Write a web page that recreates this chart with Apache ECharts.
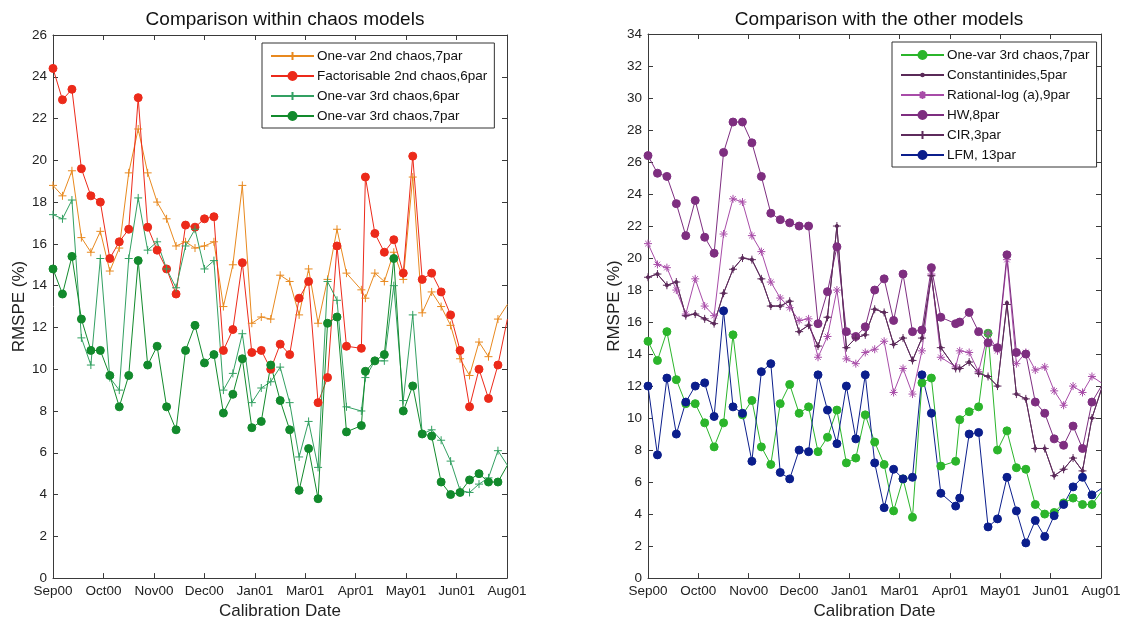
<!DOCTYPE html>
<html>
<head>
<meta charset="utf-8">
<script src="https://cdn.jsdelivr.net/npm/echarts/dist/echarts.min.js"></script>
<style>
  html, body { margin: 0; padding: 0; background: #ffffff; }
  #chart { width: 1126px; height: 625px; }
</style>
</head>
<body>
<div id="chart"></div>
<script>
// Calibration dates, in days after the first calibration (weekly, one shifted week)
const calibDays = [0, 7, 14, 21, 28, 35, 42, 49, 56, 63, 70, 77, 84, 91, 98, 105,
  112, 119, 126, 133, 140, 147, 154, 161, 168, 175, 182, 189, 196, 203, 210, 217,
  228, 231, 238, 245, 252, 259, 266, 273, 280, 287, 294, 301, 308, 315, 322, 329, 336];

// Month labels placed on the evenly spaced date ticks
const dateTickLabels = ['Sep00', 'Oct00', 'Nov00', 'Dec00', 'Jan01', 'Mar01', 'Apr01', 'May01', 'Jun01', 'Aug01'];
const dateSpan = 335.7;           // days covered by the date axis
const dateTickStep = 37.3;        // days between two date ticks

// RMSPE (%) of the chaos models
const oneVar2nd7par = [18.8, 18.3, 19.5, 16.3, 15.6, 16.6, 14.7, 15.8, 19.4, 21.5, 19.4, 18.0, 17.2, 15.9, 16.1, 15.8,
  15.9, 16.1, 13.0, 15.0, 18.8, 12.2, 12.5, 12.4, 14.5, 14.2, 12.6, 14.8, 12.2, 14.3, 16.7, 14.6,
  13.8, 13.4, 14.6, 14.2, 15.6, 14.3, 19.2, 12.7, 13.7, 13.0, 12.1, 10.5, 9.7, 11.3, 10.6, 12.4, 13.1];
const factorisable2nd6par = [24.4, 22.9, 23.4, 19.6, 18.3, 18.0, 15.3, 16.1, 16.7, 23.0, 16.8, 15.7, 14.8, 13.6, 16.9, 16.8,
  17.2, 17.3, 10.9, 11.9, 15.1, 10.8, 10.9, 10.0, 11.2, 10.7, 13.4, 14.2, 8.4, 9.6, 15.9, 11.1,
  11.0, 19.2, 16.5, 15.6, 16.2, 14.6, 20.2, 14.3, 14.6, 13.7, 12.6, 10.9, 8.2, 10.0, 8.6, 10.2, 12.4];
const oneVar3rd6par = [17.4, 17.2, 18.1, 11.5, 10.2, 15.3, 9.6, 9.0, 15.3, 18.2, 15.7, 16.1, 14.8, 13.9, 15.9, 16.7,
  14.8, 15.2, 9.0, 9.8, 11.7, 8.4, 9.1, 9.4, 10.1, 8.4, 5.8, 7.5, 5.3, 14.2, 13.3, 8.2,
  8.0, 9.6, 10.4, 10.4, 14.0, 8.5, 12.6, 6.9, 7.1, 6.6, 5.6, 4.2, 4.1, 4.5, 4.8, 6.1, 5.4];
const oneVar3rd7par = [14.8, 13.6, 15.4, 12.4, 10.9, 10.9, 9.7, 8.2, 9.7, 15.2, 10.2, 11.1, 8.2, 7.1, 10.9, 12.1,
  10.3, 10.7, 7.9, 8.8, 10.5, 7.2, 7.5, 10.2, 8.5, 7.1, 4.2, 6.2, 3.8, 12.2, 12.5, 7.0,
  7.3, 9.9, 10.4, 10.7, 15.3, 8.0, 9.2, 6.9, 6.8, 4.6, 4.0, 4.1, 4.7, 5.0, 4.6, 4.6, 5.4];

// RMSPE (%) of the other models
const constantinides5par = [18.8, 19.0, 18.3, 18.5, 16.4, 16.5, 16.2, 15.9, 17.8, 19.3, 20.0, 19.9, 18.7, 17.0, 17.0, 17.3,
  15.4, 15.8, 14.5, 16.3, 22.0, 14.4, 15.0, 15.2, 16.8, 16.6, 14.6, 15.0, 13.6, 15.0, 18.9, 14.4,
  13.1, 13.1, 13.5, 12.8, 12.6, 12.0, 17.2, 11.5, 11.2, 8.1, 8.1, 6.4, 6.8, 7.5, 6.7, 10.0, 11.8];
const rationalLog9par = [20.9, 19.6, 19.4, 18.0, 16.5, 18.7, 17.0, 16.4, 21.5, 23.7, 23.5, 21.4, 20.4, 18.5, 17.5, 16.9,
  16.1, 16.2, 13.8, 15.1, 18.0, 13.7, 13.4, 14.1, 14.3, 14.8, 11.6, 13.1, 11.5, 14.2, 19.0, 13.8,
  13.2, 14.2, 14.1, 12.9, 15.3, 14.2, 19.9, 13.4, 14.1, 13.0, 13.2, 11.7, 10.8, 12.0, 11.6, 12.6, 12.2];
const hw8par = [26.4, 25.3, 25.1, 23.4, 21.4, 23.6, 21.3, 20.3, 26.6, 28.5, 28.5, 27.2, 25.1, 22.8, 22.4, 22.2,
  22.0, 22.0, 15.9, 17.9, 20.7, 15.4, 15.1, 15.7, 18.0, 18.7, 16.1, 19.0, 15.4, 15.5, 19.4, 16.3,
  15.9, 16.0, 16.6, 15.4, 14.7, 14.4, 20.2, 14.1, 14.0, 11.0, 10.3, 8.7, 8.3, 9.5, 8.1, 11.0, 12.0];
const cir3par = [18.8, 19.0, 18.3, 18.5, 16.4, 16.5, 16.2, 15.9, 17.8, 19.3, 20.0, 19.9, 18.7, 17.0, 17.0, 17.3,
  15.4, 15.8, 14.5, 16.3, 22.0, 14.4, 15.0, 15.2, 16.8, 16.6, 14.6, 15.0, 13.6, 15.0, 18.9, 14.4,
  13.1, 13.1, 13.5, 12.8, 12.6, 12.0, 17.1, 11.5, 11.2, 8.1, 8.1, 6.4, 6.8, 7.5, 6.7, 10.0, 11.8];
const lfm13par = [12.0, 7.7, 12.5, 9.0, 11.0, 12.0, 12.2, 10.1, 16.7, 10.7, 10.3, 7.3, 12.9, 13.4, 6.6, 6.2,
  8.0, 7.9, 12.7, 10.5, 8.4, 12.0, 8.7, 12.7, 7.2, 4.4, 6.8, 6.2, 6.3, 12.7, 10.3, 5.3,
  4.5, 5.0, 9.0, 9.1, 3.2, 3.7, 6.3, 4.2, 2.2, 3.6, 2.6, 3.9, 4.6, 5.7, 6.3, 5.2, 5.6];

// Marker shapes
const PLUS = 'path://M0,5L10,5M5,0L5,10';
const STAR = 'path://M0,5L10,5M5,0L5,10M1.6,1.6L8.4,8.4M8.4,1.6L1.6,8.4';
const DOT = 'path://M0,0M10,10M3.4,5A1.6,1.6,0,1,1,6.6,5A1.6,1.6,0,1,1,3.4,5Z';

const FONT = "'Liberation Sans', Arial, Helvetica, sans-serif";
const AXIS_COLOR = '#3a3a3a';
const TEXT_COLOR = '#222222';

function series(name, values, color, symbol, size, panel) {
  return {
    name: name,
    type: 'line',
    xAxisIndex: panel * 2,
    yAxisIndex: panel * 2,
    data: calibDays.map((d, i) => [d, values[i]]),
    symbol: symbol,
    symbolSize: size,
    showSymbol: true,
    clip: true,
    silent: true,
    lineStyle: { color: color, width: 1 },
    itemStyle: { color: color, borderColor: color, borderWidth: 1 },
    emphasis: { disabled: true }
  };
}

function dateAxes(panel) {
  const common = {
    type: 'value', gridIndex: panel, min: 0, max: dateSpan, interval: dateTickStep,
    splitLine: { show: false },
    axisLine: { show: true, onZero: false, lineStyle: { color: AXIS_COLOR, width: 1 } },
    axisTick: { show: true, inside: true, length: 5, lineStyle: { color: AXIS_COLOR } }
  };
  return [
    Object.assign({}, common, {
      position: 'bottom',
      axisLabel: {
        show: true, margin: 6, fontSize: 13.5, color: TEXT_COLOR, fontFamily: FONT,
        formatter: v => dateTickLabels[Math.round(v / dateTickStep)] || ''
      },
      name: 'Calibration Date', nameLocation: 'middle', nameGap: 22,
      nameTextStyle: { fontSize: 17, color: TEXT_COLOR, fontFamily: FONT }
    }),
    Object.assign({}, common, { position: 'top', axisLabel: { show: false } })
  ];
}

function valueAxes(panel, maxVal) {
  const common = {
    type: 'value', gridIndex: panel, min: 0, max: maxVal, interval: 2,
    splitLine: { show: false },
    axisLine: { show: true, onZero: false, lineStyle: { color: AXIS_COLOR, width: 1 } },
    axisTick: { show: true, inside: true, length: 5, lineStyle: { color: AXIS_COLOR } }
  };
  return [
    Object.assign({}, common, {
      position: 'left',
      axisLabel: { show: true, margin: 6, fontSize: 13.5, color: TEXT_COLOR, fontFamily: FONT },
      name: 'RMSPE (%)', nameLocation: 'middle', nameGap: 24,
      nameTextStyle: { fontSize: 17, color: TEXT_COLOR, fontFamily: FONT }
    }),
    Object.assign({}, common, { position: 'right', axisLabel: { show: false } })
  ];
}

function legend(left, top, names) {
  return {
    orient: 'vertical', left: left, top: top,
    padding: [6, 7, 5, 8], itemWidth: 43, itemHeight: 10, itemGap: 6,
    backgroundColor: '#ffffff', borderColor: '#333333', borderWidth: 1, borderRadius: 0,
    selectedMode: false,
    formatter: name => name.trim(),
    textStyle: { fontSize: 13.5, color: '#111111', fontFamily: FONT, padding: [0, 0, 0, -2] },
    data: names
  };
}

const leftSeries = [
  series('One-var 2nd chaos,7par', oneVar2nd7par, '#e8891f', PLUS, 8, 0),
  series('Factorisable 2nd chaos,6par', factorisable2nd6par, '#ec2a1a', 'circle', 8, 0),
  series('One-var 3rd chaos,6par', oneVar3rd6par, '#33a062', PLUS, 8, 0),
  series('One-var 3rd chaos,7par', oneVar3rd7par, '#128a2c', 'circle', 8, 0)
];
// the right panel repeats the 7-parameter third-order chaos model in its own colour
const rightSeries = [
  series('One-var 3rd chaos,7par ', oneVar3rd7par, '#2bb52b', 'circle', 8, 1),
  series('Constantinides,5par', constantinides5par, '#5a2a58', DOT, 10, 1),
  series('Rational-log (a),9par', rationalLog9par, '#a84ca8', STAR, 8, 1),
  series('HW,8par', hw8par, '#7e2e80', 'circle', 8, 1),
  series('CIR,3par', cir3par, '#5e2b5c', PLUS, 8, 1),
  series('LFM, 13par', lfm13par, '#0b1e8c', 'circle', 8, 1)
];

const leftDate = dateAxes(0), rightDate = dateAxes(1);
const leftVal = valueAxes(0, 26), rightVal = valueAxes(1, 34);

const chart = echarts.init(document.getElementById('chart'), null, { renderer: 'canvas' });
chart.setOption({
  animation: false,
  backgroundColor: '#ffffff',
  title: [
    { text: 'Comparison within chaos models', left: 280, top: 5, textAlign: 'center',
      textStyle: { fontSize: 19, fontWeight: 'normal', color: '#111111', fontFamily: FONT } },
    { text: 'Comparison with the other models', left: 874, top: 5, textAlign: 'center',
      textStyle: { fontSize: 19, fontWeight: 'normal', color: '#111111', fontFamily: FONT } }
  ],
  grid: [
    { left: 53, top: 35, width: 454, height: 546 },
    { left: 648, top: 34, width: 453, height: 547 }
  ],
  xAxis: [leftDate[0], leftDate[1], rightDate[0], rightDate[1]],
  yAxis: [leftVal[0], leftVal[1], rightVal[0], rightVal[1]],
  legend: [
    legend(262, 43, leftSeries.map(s => s.name)),
    legend(892, 42, rightSeries.map(s => s.name))
  ],
  series: leftSeries.concat(rightSeries)
});
</script>
</body>
</html>
